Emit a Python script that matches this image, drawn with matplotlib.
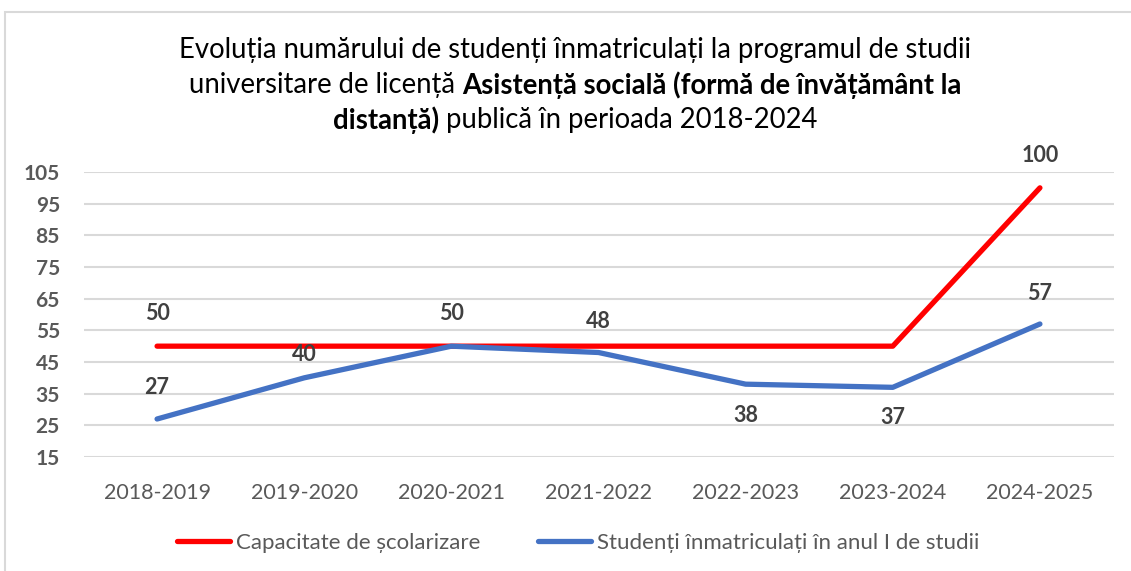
import matplotlib
matplotlib.use("Agg")
import matplotlib.pyplot as plt
from matplotlib.lines import Line2D
from matplotlib.patches import Rectangle

plt.rcParams['font.family'] = ['Lato', 'DejaVu Sans']

# date
ani = ["2018-2019", "2019-2020", "2020-2021", "2021-2022", "2022-2023", "2023-2024", "2024-2025"]
capacitate = [50, 50, 50, 50, 50, 50, 100]
inmatriculati = [27, 40, 50, 48, 38, 37, 57]
y_ticks = [15, 25, 35, 45, 55, 65, 75, 85, 95, 105]

# etichete afisate (serie, index)
etichete = [("cap", 0), ("inm", 0), ("inm", 1), ("cap", 2), ("inm", 3),
            ("inm", 4), ("inm", 5), ("cap", 6), ("inm", 6)]
# deplasare verticala a etichetelor, in pixeli (negativ = deasupra)
deplasari = [-33, -31, -23, -33, -31, 31, 30, -32, -31]

RED = "#FF0000"
BLUE = "#4472C4"
GRID = "#D9D9D9"
TXT = "#595959"
LBL = "#404040"

fig = plt.figure(figsize=(11.31, 5.71), dpi=100)
W, H = 1131, 571

# chenarul graficului
fig.patches.append(Rectangle((5 / W, -0.05), 1.2, 1 - 12 / H + 0.05, transform=fig.transFigure,
                             facecolor="white", edgecolor=GRID, linewidth=1.5, zorder=-10))

ax = fig.add_axes([83.5 / W, 1 - 457 / H, 1030 / W, 285 / H])
ax.set_facecolor("none")
x = list(range(len(ani)))

ax.plot(x, capacitate, color=RED, lw=3.8, solid_capstyle="round", zorder=3)
ax.plot(x, inmatriculati, color=BLUE, lw=3.8, solid_capstyle="round", zorder=3)

ax.set_xlim(-0.5, len(ani) - 0.5)
ax.set_ylim(15, 105)
ax.set_yticks(y_ticks)
ax.set_xticks(x)
ax.set_xticklabels(ani, fontsize=15.5, color=TXT)
ax.set_yticklabels([str(v) for v in y_ticks], fontsize=15, color=TXT, fontweight="bold")
ax.tick_params(axis="y", length=0, pad=17)
ax.tick_params(axis="x", length=0, pad=19)
for v in y_ticks:
    ax.axhline(v, color=GRID, lw=1.5, zorder=1)
for s in ax.spines.values():
    s.set_visible(False)

serii = {"cap": capacitate, "inm": inmatriculati}
for (s, i), dy in zip(etichete, deplasari):
    val = serii[s][i]
    ax.annotate(str(val), (i, val), xytext=(0, -dy * 0.72), textcoords="offset points",
                ha="center", va="center", fontsize=15.5, fontweight="bold", color=LBL)

# titlu cu portiuni ingrosate
titlu = [
    [("Evoluția numărului de studenți înmatriculați la programul de studii", "normal")],
    [("universitare de licență ", "normal"), ("Asistență socială (formă de învățământ la", "bold")],
    [("distanță)", "bold"), (" publică în perioada 2018-2024", "normal")],
]
fs = 17
r = fig.canvas.get_renderer()
t = fig.text(0, 0, titlu[0][0][0], fontsize=fs)
w0 = t.get_window_extent(r).width
t.remove()
fs = fs * 794 / w0

cx = 575
for k, linie in enumerate(titlu):
    y = 1 - (50 + 35 * k) / H
    parts = []
    total = 0
    for txt, wt in linie:
        tt = fig.text(0, y, txt, fontsize=fs, fontweight=wt, color="black", va="center")
        wd = tt.get_window_extent(r).width
        parts.append((tt, wd))
        total += wd
    xs = cx - total / 2
    for tt, wd in parts:
        tt.set_x(xs / W)
        xs += wd

# legenda
handles = [Line2D([], [], color=RED, lw=3.8, solid_capstyle="round"),
           Line2D([], [], color=BLUE, lw=3.8, solid_capstyle="round")]
fig.legend(handles, ["Capacitate de școlarizare", "Studenți înmatriculați în anul I de studii"],
           loc="center", bbox_to_anchor=(578 / W, 1 - 543 / H), ncol=2, frameon=False,
           fontsize=16, labelcolor=TXT, handlelength=2.4, handletextpad=0.25, columnspacing=2.6)

fig.savefig("out.png", dpi=100)
